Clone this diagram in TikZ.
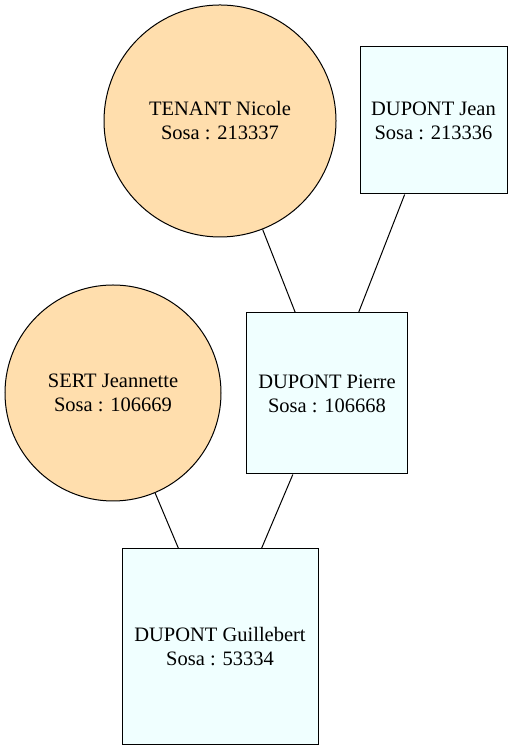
\documentclass[tikz,border=0pt]{standalone}
\usepackage{fontspec}
\setmainfont{Liberation Serif}
\definecolor{navajo}{HTML}{FFDEAD}
\definecolor{azurebox}{HTML}{F0FFFF}
\begin{document}
\begin{tikzpicture}[x=1pt,y=1pt,
  female/.style={circle,draw=black,fill=navajo,line width=1pt,inner sep=0pt,align=center,font=\fontsize{20.5}{24}\selectfont},
  male/.style={rectangle,draw=black,fill=azurebox,line width=1pt,inner sep=0pt,align=center,font=\fontsize{20.5}{24}\selectfont},
  link/.style={line width=1pt,black}]
\useasboundingbox (0,0) rectangle (513,751);
\node[female,minimum size=232pt] (nicole) at (220,630) {TENANT Nicole\\Sosa : 213337};
\node[male,minimum width=147pt,minimum height=147pt] (jean) at (433.5,630.5) {DUPONT Jean\\Sosa : 213336};
\node[female,minimum size=216pt] (jeannette) at (113,358) {SERT Jeannette\\Sosa : 106669};
\node[male,minimum width=161pt,minimum height=161pt] (pierre) at (327,357.5) {DUPONT Pierre\\Sosa : 106668};
\node[male,minimum width=196pt,minimum height=196pt] (guill) at (220,104) {DUPONT Guillebert\\Sosa : 53334};
\draw[link] (nicole) -- (pierre);
\draw[link] (jean) -- (pierre);
\draw[link] (jeannette) -- (guill);
\draw[link] (pierre) -- (guill);
\end{tikzpicture}
\end{document}
